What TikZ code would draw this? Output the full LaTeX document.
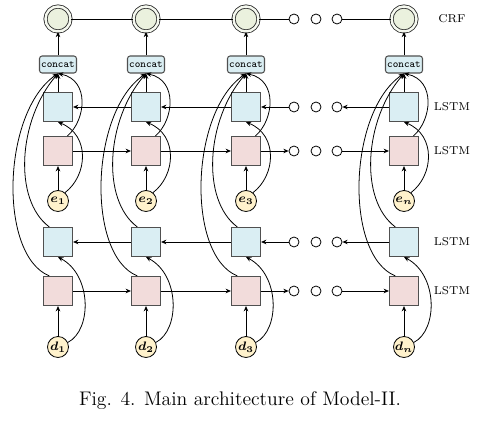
\documentclass[tikz,border=0pt]{standalone}
\usepackage{amsmath,bm}
\usetikzlibrary{positioning,arrows.meta}
\definecolor{lstmblue}{HTML}{DAEEF3}
\definecolor{lstmpink}{HTML}{F2DCDB}
\definecolor{crfgreen}{HTML}{EBF1DE}
\definecolor{inyellow}{HTML}{FFF2CC}
\definecolor{edgegray}{HTML}{505050}

\begin{document}
\begin{tikzpicture}[>={Stealth[length=3pt,width=2.6pt]}, x=0.02cm, y=-0.02cm,
    every path/.style={line width=0.45pt},
    cell/.style={draw=edgegray, line width=0.65pt, minimum size=5.8mm, inner sep=0pt},
    bwcell/.style={cell, fill=lstmblue},
    fwcell/.style={cell, fill=lstmpink},
    crfnode/.style={circle, draw=black!85, fill=crfgreen, double=crfgreen!45, double distance=1.4pt,
                    minimum size=5mm, inner sep=0pt},
    catnode/.style={draw=edgegray, line width=0.6pt, rounded corners=1.5pt, fill=lstmblue,
                    minimum width=7.4mm, minimum height=3.4mm, inner sep=0pt,
                    font=\fontsize{6}{6.5}\selectfont\ttfamily},
    wordnode/.style={circle, draw=black, fill=inyellow, minimum size=4.2mm, inner sep=0pt, font=\scriptsize},
    dotnode/.style={circle, draw=black, minimum size=2mm, inner sep=0pt},
    rowlabel/.style={font=\fontsize{6.5}{7}\selectfont}]
  \useasboundingbox (0,0) rectangle (497,425);

  % one column per word
  \foreach \i/\x/\s in {1/58/1, 2/146/2, 3/246/3, 4/404/n} {
    \node[crfnode] (crf\i) at (\x,19) {};
    \node[catnode] (cc\i) at (\x,64.5) {concat};
    \node[bwcell] (bu\i) at (\x,107) {};
    \node[fwcell] (fu\i) at (\x,151) {};
    \node[wordnode] (e\i) at (\x,201) {$\bm{e_{\s}}$};
    \node[bwcell] (bl\i) at (\x,242) {};
    \node[fwcell] (fl\i) at (\x,291) {};
    \node[wordnode] (d\i) at (\x,347) {$\bm{d_{\s}}$};
    \draw[->] (cc\i) -- (crf\i);
    \draw[->] (bu\i) -- (cc\i);
    \draw[->] (e\i) -- (fu\i);
    \draw[->] (d\i) -- (fl\i);
    \draw[->] (fu\i.58) .. controls (\x+28,120) and (\x+32,80) .. (cc\i.south);
    \draw[->] (e\i.50) .. controls (\x+30,175) and (\x+32,135) .. (bu\i.south);
    \draw[->] (d\i.25) .. controls (\x+34,330) and (\x+34,275) .. (bl\i.south);
    \draw[->] (bl\i.120) .. controls (\x-45,200) and (\x-40,120) .. (cc\i.south);
    \draw[->] (fl\i.120) .. controls (\x-60,255) and (\x-56,112) .. (cc\i.south);
  }

  % dots between column 3 and column n
  \foreach \r/\y in {c/19, a/107, b/151, p/242, q/291} {
    \node[dotnode] (o\r1) at (294,\y) {};
    \node[dotnode] (o\r2) at (316,\y) {};
    \node[dotnode] (o\r3) at (337,\y) {};
  }

  \draw (crf1) -- (crf2) -- (crf3) -- (oc1);
  \draw (oc3) -- (crf4);
  \draw[->] (bu2) -- (bu1);
  \draw[->] (bu3) -- (bu2);
  \draw[->] (oa1) -- (bu3);
  \draw[->] (bu4) -- (oa3);
  \draw[->] (fu1) -- (fu2);
  \draw[->] (fu2) -- (fu3);
  \draw[->] (fu3) -- (ob1);
  \draw[->] (ob3) -- (fu4);
  \draw[->] (bl2) -- (bl1);
  \draw[->] (bl3) -- (bl2);
  \draw[->] (op1) -- (bl3);
  \draw[->] (bl4) -- (op3);
  \draw[->] (fl1) -- (fl2);
  \draw[->] (fl2) -- (fl3);
  \draw[->] (fl3) -- (oq1);
  \draw[->] (oq3) -- (fl4);

  \node[rowlabel] (lcrf) at (452,19) {CRF};
  \node[rowlabel] (l1) at (452,107) {LSTM};
  \node[rowlabel] (l2) at (452,151) {LSTM};
  \node[rowlabel] (l3) at (452,242) {LSTM};
  \node[rowlabel] (l4) at (452,291) {LSTM};

  \node[font=\fontsize{11.2}{13}\selectfont] (cap) at (240,401) {Fig. 4. Main architecture of Model-II.};
\end{tikzpicture}
\end{document}
